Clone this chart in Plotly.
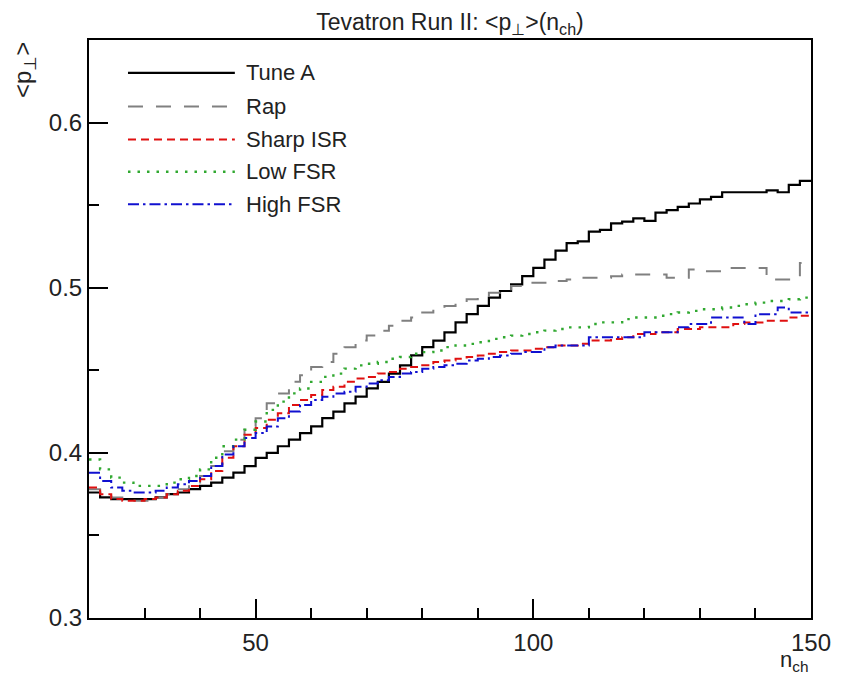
import plotly.graph_objects as go

# n_ch bins (low edges, width 2) from 20 to 150
bin_low = list(range(20, 150, 2))
bin_high_end = 150

tune_a = [0.376, 0.373, 0.372, 0.372, 0.372, 0.372, 0.373, 0.375, 0.376, 0.378,
          0.380, 0.382, 0.385, 0.388, 0.392, 0.397, 0.400, 0.404, 0.408, 0.412,
          0.416, 0.421, 0.425, 0.430, 0.434, 0.439, 0.443, 0.448, 0.453, 0.459,
          0.464, 0.468, 0.473, 0.479, 0.484, 0.489, 0.494, 0.498, 0.502, 0.507,
          0.512, 0.517, 0.5225, 0.527, 0.528, 0.534, 0.535, 0.539, 0.540, 0.542,
          0.5405, 0.5455, 0.547, 0.549, 0.551, 0.5535, 0.555, 0.5578, 0.5578, 0.5578,
          0.5578, 0.559, 0.5578, 0.5623, 0.5647]

rap = [0.378, 0.374, 0.373, 0.372, 0.371, 0.371, 0.373, 0.375, 0.378, 0.382,
       0.386, 0.392, 0.401, 0.408, 0.416, 0.421, 0.430, 0.436, 0.443, 0.447,
       0.452, 0.455, 0.460, 0.464, 0.468, 0.471, 0.474, 0.477, 0.480, 0.482,
       0.485, 0.487, 0.489, 0.491, 0.493, 0.495, 0.497, 0.499, 0.501, 0.503,
       0.503, 0.503, 0.504, 0.505, 0.506, 0.506, 0.506, 0.507, 0.508, 0.508,
       0.508, 0.508, 0.506, 0.506, 0.511, 0.510, 0.510, 0.512, 0.512, 0.512,
       0.512, 0.505, 0.505, 0.505, 0.515]

sharp_isr = [0.379, 0.375, 0.372, 0.371, 0.371, 0.372, 0.373, 0.375, 0.377, 0.380,
             0.384, 0.389, 0.397, 0.404, 0.411, 0.415, 0.420, 0.424, 0.429, 0.432,
             0.435, 0.438, 0.440, 0.443, 0.445, 0.446, 0.448, 0.449, 0.451, 0.452,
             0.453, 0.455, 0.456, 0.457, 0.458, 0.459, 0.460, 0.461, 0.462, 0.462,
             0.463, 0.464, 0.465, 0.465, 0.466, 0.468, 0.468, 0.469, 0.470, 0.472,
             0.472, 0.473, 0.473, 0.475, 0.475, 0.476, 0.476, 0.476, 0.478, 0.479,
             0.479, 0.480, 0.480, 0.482, 0.483]

low_fsr = [0.396, 0.390, 0.385, 0.382, 0.380, 0.380, 0.380, 0.382, 0.384, 0.386,
           0.390, 0.397, 0.404, 0.408, 0.414, 0.419, 0.426, 0.431, 0.436, 0.439,
           0.443, 0.446, 0.448, 0.451, 0.453, 0.454, 0.455, 0.457, 0.458, 0.460,
           0.461, 0.462, 0.464, 0.465, 0.466, 0.467, 0.469, 0.470, 0.471, 0.472,
           0.473, 0.474, 0.475, 0.476, 0.476, 0.478, 0.479, 0.479, 0.481, 0.482,
           0.482, 0.483, 0.484, 0.485, 0.486, 0.487, 0.487, 0.488, 0.489, 0.490,
           0.491, 0.492, 0.492, 0.493, 0.494]

high_fsr = [0.388, 0.383, 0.379, 0.377, 0.376, 0.376, 0.377, 0.379, 0.381, 0.383,
            0.386, 0.392, 0.399, 0.404, 0.409, 0.412, 0.416, 0.421, 0.425, 0.429,
            0.432, 0.434, 0.436, 0.437, 0.440, 0.442, 0.444, 0.446, 0.448, 0.449,
            0.451, 0.452, 0.453, 0.454, 0.456, 0.457, 0.458, 0.459, 0.460, 0.461,
            0.461, 0.464, 0.465, 0.465, 0.465, 0.470, 0.470, 0.470, 0.470, 0.470,
            0.473, 0.473, 0.473, 0.476, 0.478, 0.478, 0.482, 0.482, 0.482, 0.478,
            0.484, 0.484, 0.488, 0.485, 0.485]

series_names = ["Tune A", "Rap", "Sharp ISR", "Low FSR", "High FSR"]
series_vals = [tune_a, rap, sharp_isr, low_fsr, high_fsr]
colors = ["#000000", "#808080", "#e01010", "#30a830", "#1010d0"]
dashes = ["solid", "15px,13px", "8px,5px", "2.5px,7px", "11px,4px,2.5px,4px"]
widths = [2.2, 2, 2, 2.4, 2]

FONT = "Liberation Sans, Arial, Helvetica, sans-serif"

fig = go.Figure()
x_edges = bin_low + [bin_high_end]
for name, vals, c, d, w in zip(series_names, series_vals, colors, dashes, widths):
    fig.add_trace(go.Scatter(
        x=x_edges, y=vals + [vals[-1]], mode="lines", name=name,
        line=dict(color=c, dash=d, width=w, shape="hv"), showlegend=False))

# manual legend (long line samples as in the reference)
leg_y = [0.943, 0.885, 0.828, 0.772, 0.716]
for name, c, d, w, yy in zip(series_names, colors, dashes, widths, leg_y):
    fig.add_shape(type="line", xref="paper", yref="paper", x0=0.054, x1=0.202,
                  y0=yy, y1=yy, line=dict(color=c, dash=d, width=w))
    fig.add_annotation(xref="paper", yref="paper", x=0.215, y=yy, text=name,
                       showarrow=False, xanchor="left", yanchor="middle",
                       font=dict(family=FONT, size=22, color="#222"))

fig.add_annotation(xref="paper", yref="paper", x=-0.09, y=1.0,
                   text="&lt;p<sub>⊥</sub>&gt;", textangle=-90, showarrow=False,
                   xanchor="center", yanchor="top",
                   font=dict(family=FONT, size=24, color="#222"))
fig.add_annotation(xref="paper", yref="paper", x=1.0, y=-0.046,
                   text="n<sub>ch</sub>", showarrow=False,
                   xanchor="right", yanchor="top",
                   font=dict(family=FONT, size=22, color="#222"))

# page body has an 8px margin: shift the figure so the frame lands where the reference has it
fig.update_layout(
    width=844, height=671,
    margin=dict(l=81, r=41, t=32, b=61),
    paper_bgcolor="white", plot_bgcolor="white",
    title=dict(text="Tevatron Run II: &lt;p<sub>⊥</sub>&gt;(n<sub>ch</sub>)",
               x=0.5, xref="paper", xanchor="center",
               y=1 - 14 / 671, yref="container", yanchor="middle",
               font=dict(family=FONT, size=23, color="#222")),
    font=dict(family=FONT, size=24, color="#222"),
    showlegend=False,
)
fig.update_xaxes(range=[20, 150], showline=True, mirror=True, linecolor="black",
                 linewidth=2, showgrid=False, zeroline=False,
                 tickmode="array", tickvals=[50, 100, 150], ticks="inside",
                 ticklen=19, tickwidth=1.5, tickcolor="black",
                 ticklabelstandoff=2,
                 minor=dict(ticks="inside", ticklen=10, tickwidth=1.5,
                            tickcolor="black", dtick=10, tick0=0, showgrid=False))
fig.update_yaxes(range=[0.3, 0.65], showline=True, mirror=True, linecolor="black",
                 linewidth=2, showgrid=False, zeroline=False,
                 tickmode="array", tickvals=[0.3, 0.4, 0.5, 0.6],
                 ticktext=["0.3", "0.4", "0.5", "0.6"], ticks="inside",
                 ticklen=19, tickwidth=1.5, tickcolor="black",
                 ticklabelstandoff=0,
                 minor=dict(ticks="inside", ticklen=10, tickwidth=1.5,
                            tickcolor="black", dtick=0.05, tick0=0.3, showgrid=False))

fig.write_html("out.html")
